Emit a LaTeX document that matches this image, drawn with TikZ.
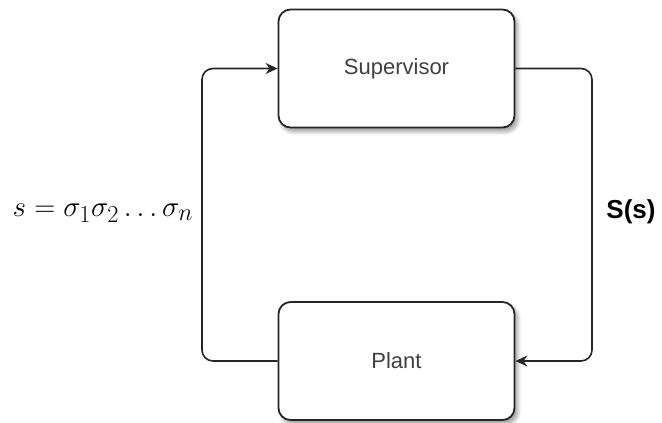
\documentclass[tikz,border=0pt]{standalone}
\usepackage{fontspec}
\setsansfont{Liberation Sans}
\usetikzlibrary{arrows.meta,shadows.blur}
\begin{document}
\begin{tikzpicture}[x=1pt,y=-1pt,
  block/.style={draw=black!85,line width=1.8pt,rounded corners=12pt,fill=white,
    minimum width=236pt,minimum height=118pt,inner sep=0pt,
    blur shadow={shadow xshift=3pt,shadow yshift=-4pt,shadow blur steps=8,shadow blur radius=4pt,shadow opacity=40},
    font=\sffamily\fontsize{22}{25}\selectfont,text=black!75},
  link/.style={draw=black!85,line width=1.6pt,rounded corners=11pt,
    -{Stealth[length=12pt,width=11pt]}}]
  \useasboundingbox (0,0) rectangle (662,423);
  \node[block] (sup) at (396.5,68.5) {Supervisor};
  \node[block] (plant) at (396.5,361) {Plant};
  % feedback from the plant up to the supervisor
  \draw[link] (plant.west) -| (202,214) |- (sup.west);
  % control action from the supervisor down to the plant
  \draw[link] (sup.east) -| (592,214) |- (plant.east);
  \node (lbl) at (103,213) {\scalebox{1.17}{\fontsize{24.88}{30}\selectfont$s=\sigma_1\sigma_2\ldots\sigma_n$}};
  \node[font=\sffamily\bfseries\fontsize{26}{30}\selectfont] (ss) at (631,212) {S(s)};
\end{tikzpicture}
\end{document}
